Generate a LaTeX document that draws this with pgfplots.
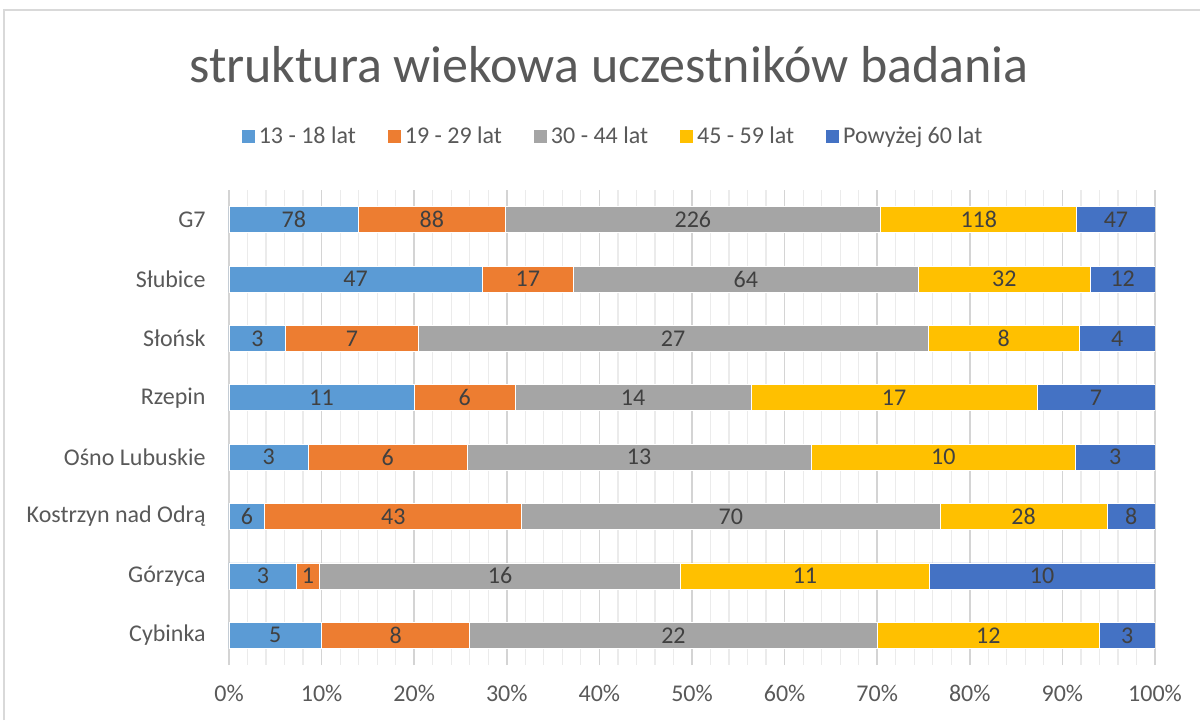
\documentclass[border=0pt]{standalone}
\usepackage{fontspec}
\setmainfont{Carlito}
\usepackage{pgfplots}
\usepackage{pgfplotstable}
\pgfplotsset{compat=1.18}

\definecolor{cA}{HTML}{5B9BD5}
\definecolor{cB}{HTML}{ED7D31}
\definecolor{cC}{HTML}{A5A5A5}
\definecolor{cD}{HTML}{FFC000}
\definecolor{cE}{HTML}{4472C4}
\definecolor{txt}{HTML}{595959}
\definecolor{lbl}{HTML}{404040}

% counts per age group, Cybinka at y=0 ... G7 at y=7
\pgfplotstableread{
y a b c d e
0 5 8 22 12 3
1 3 1 16 11 10
2 6 43 70 28 8
3 3 6 13 10 3
4 11 6 14 17 7
5 3 7 27 8 4
6 47 17 64 32 12
7 78 88 226 118 47
}\agedata

\newcommand{\tot}{(\thisrow{a}+\thisrow{b}+\thisrow{c}+\thisrow{d}+\thisrow{e})}

% common geometry of the bar axis and the label overlay
\pgfplotsset{geom/.style={
  scale only axis,
  width=463pt, height=237.5pt,
  at={(114.5pt,27.5pt)}, anchor=south west,
  xmin=0, xmax=100, ymin=-0.5, ymax=7.5}}

% label in the middle of a segment: start offset, column
\newcommand{\seglabel}[2]{%
\addplot[draw=none, mark=none, nodes near coords, point meta=explicit symbolic]
  table[y=y, x expr={100*(#1+0.5*\thisrow{#2})/\tot}, meta=#2]{\agedata};}

\begin{document}
\begin{tikzpicture}
\path[use as bounding box] (0,0) rectangle (600pt,360pt);
\draw[color=black!15, line width=0.8pt] (2pt,0) -- (2pt,355pt) -- (600pt,355pt);

\begin{axis}[geom,
  xbar stacked, bar width=13pt,
  xtick={0,10,...,100},
  minor x tick num=4,
  xmajorgrids, xminorgrids,
  major grid style={color=black!17, line width=0.8pt},
  minor grid style={color=black!8, line width=0.6pt},
  ytick={0,...,7},
  yticklabels={Cybinka, Górzyca, Kostrzyn nad Odrą, Ośno Lubuskie, Rzepin, Słońsk, Słubice, G7},
  xticklabel={\pgfmathprintnumber[assume math mode=true]{\tick}\%},
  axis line style={draw=none},
  major tick length=0pt, minor tick length=0pt,
  tick label style={font=\fontsize{12}{13}\selectfont, text=txt, inner sep=0pt},
  yticklabel style={xshift=-11.5pt},
  xticklabel style={yshift=-10pt},
  legend columns=-1,
  legend style={at={(0.4158,1.1116)}, anchor=center, draw=none,
    font=\fontsize{12}{13}\selectfont, text=txt,
    /tikz/every even column/.append style={column sep=14pt}},
  legend image code/.code={\draw[#1, draw=none] (0pt,-3.25pt) rectangle (6.5pt,3.25pt);},
]
\addplot[fill=cA, draw=white, line width=0.4pt] table[y=y, x expr={100*\thisrow{a}/\tot}]{\agedata};
\addplot[fill=cB, draw=white, line width=0.4pt] table[y=y, x expr={100*\thisrow{b}/\tot}]{\agedata};
\addplot[fill=cC, draw=white, line width=0.4pt] table[y=y, x expr={100*\thisrow{c}/\tot}]{\agedata};
\addplot[fill=cD, draw=white, line width=0.4pt] table[y=y, x expr={100*\thisrow{d}/\tot}]{\agedata};
\addplot[fill=cE, draw=white, line width=0.4pt] table[y=y, x expr={100*\thisrow{e}/\tot}]{\agedata};
\legend{13 - 18 lat, 19 - 29 lat, 30 - 44 lat, 45 - 59 lat, Powyżej 60 lat}
\end{axis}

\begin{axis}[geom, hide axis,
  nodes near coords align={center},
  every node near coord/.append style={anchor=center, inner sep=0pt,
    font=\fontsize{12}{13}\selectfont, text=lbl}]
\seglabel{0}{a}
\seglabel{\thisrow{a}}{b}
\seglabel{\thisrow{a}+\thisrow{b}}{c}
\seglabel{\thisrow{a}+\thisrow{b}+\thisrow{c}}{d}
\seglabel{\thisrow{a}+\thisrow{b}+\thisrow{c}+\thisrow{d}}{e}
\end{axis}

\node[text=txt, font=\fontsize{26}{30}\selectfont] at (304.5pt,327.5pt) {struktura wiekowa uczestników badania};
\end{tikzpicture}
\end{document}
